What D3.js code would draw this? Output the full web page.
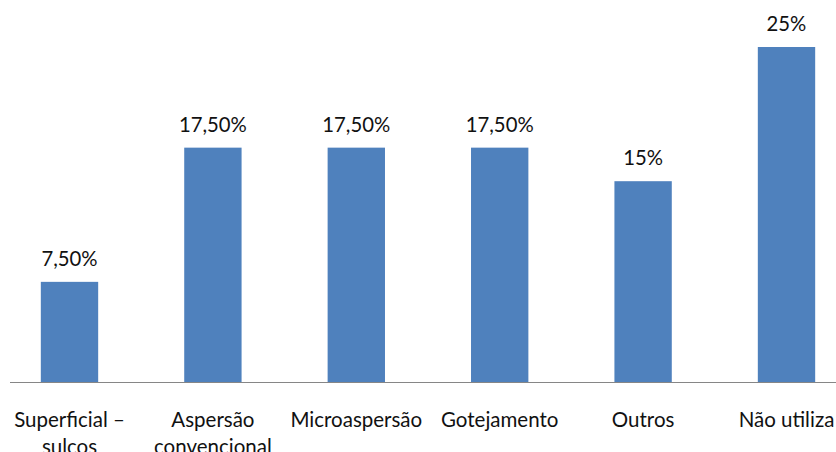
<!DOCTYPE html>
<html>
<head>
<meta charset="utf-8">
<script src="https://cdn.jsdelivr.net/npm/d3@7"></script>
<style>
  body { margin: 0; background: #fff; }
  svg text { font-family: Lato, "Liberation Sans", sans-serif; fill: #111; }
</style>
</head>
<body>
<svg width="836" height="452"></svg>
<script>
var categories = ["Superficial –|sulcos", "Aspersão|convencional", "Microaspersão", "Gotejamento", "Outros", "Não utiliza"];
var values = [7.5, 17.5, 17.5, 17.5, 15, 25];
var valueLabels = ["7,50%", "17,50%", "17,50%", "17,50%", "15%", "25%"];

var svg = d3.select("svg"),
    width = +svg.attr("width"),
    height = +svg.attr("height");

var x = d3.scaleBand()
    .domain(categories)
    .range([-2.2, 858.2])
    .paddingInner(0.6)
    .paddingOuter(0.3);

var y = d3.scaleLinear()
    .domain([0, 25])
    .range([382.5, 47]);

// bars
svg.append("g")
  .selectAll("rect")
  .data(values)
  .enter().append("rect")
    .attr("x", function(d, i) { return x(categories[i]); })
    .attr("y", function(d) { return y(d); })
    .attr("width", x.bandwidth())
    .attr("height", function(d) { return y(0) - y(d); })
    .attr("fill", "#4F81BD");

// value labels above the bars
svg.append("g")
  .selectAll("text")
  .data(values)
  .enter().append("text")
    .attr("x", function(d, i) { return x(categories[i]) + x.bandwidth() / 2; })
    .attr("y", function(d) { return y(d) - 16; })
    .attr("text-anchor", "middle")
    .style("font-size", "20.3px")
    .text(function(d, i) { return valueLabels[i]; });

// category axis (second lines run off the bottom edge, as in the original)
var axis = svg.append("g")
    .attr("transform", "translate(0," + y(0) + ")")
    .call(d3.axisBottom(x).tickSize(0).tickPadding(0).tickFormat(""));
axis.select(".domain").remove();
axis.append("line")
    .attr("x1", 10).attr("x2", width)
    .attr("stroke", "#868686").attr("stroke-width", 1);

axis.selectAll(".tick text").remove();
axis.selectAll(".tick").append("text")
    .attr("text-anchor", "middle")
    .style("font-size", "20.5px")
    .selectAll("tspan")
    .data(function(d) { return d.split("|"); })
    .enter().append("tspan")
      .attr("x", 0)
      .attr("y", function(d, i) { return 44.5 + i * 26.5; })
      .text(function(d) { return d; });
</script>
</body>
</html>
